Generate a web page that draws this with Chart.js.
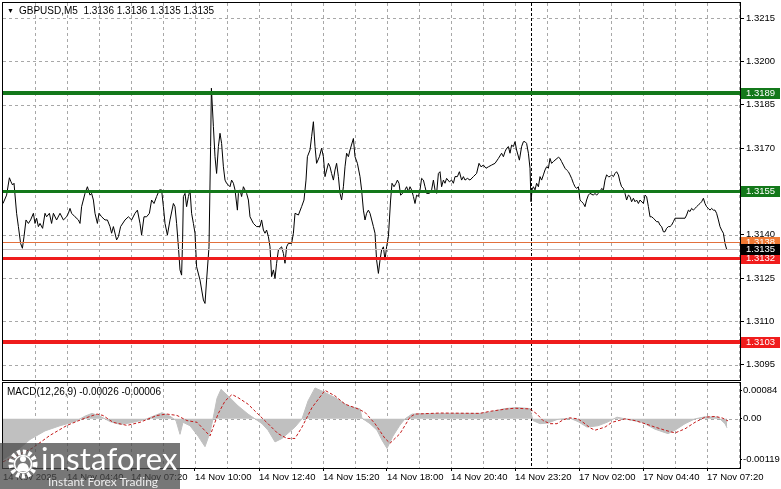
<!DOCTYPE html>
<html><head><meta charset="utf-8">
<script src="https://cdn.jsdelivr.net/npm/chart.js@4.4.1/dist/chart.umd.min.js"></script>
<style>
html,body{margin:0;padding:0;background:#fff;width:781px;height:489px;overflow:hidden;position:relative;font-family:"Liberation Sans",Arial,sans-serif;}
canvas{position:absolute;left:0;}
#cMain{top:0;}
#cMacd{top:381px;}
.ttl{position:absolute;font-size:10px;color:#000;white-space:nowrap;line-height:12px;}
.tri{font-size:7px;display:inline-block;margin-right:5px;position:relative;top:-1px;}
#wm{position:absolute;left:0;top:443px;width:180px;height:46px;background:rgba(72,72,72,0.74);overflow:hidden;}
#wmIcon{position:absolute;left:6px;top:3px;}
#wmText{position:absolute;left:41px;top:0;font-family:Lato,"Open Sans",sans-serif;font-size:31px;line-height:31px;color:#fff;letter-spacing:0.2px;}
#wmSub{position:absolute;left:48px;top:33px;font-family:Lato,"Open Sans",sans-serif;font-size:12px;line-height:12px;color:#eee;}
</style></head>
<body>
<canvas id="cMain" width="781" height="382"></canvas>
<canvas id="cMacd" width="781" height="108"></canvas>
<div class="ttl" style="left:7px;top:5px;"><span class="tri">&#9660;</span>GBPUSD,M5&nbsp; 1.3136 1.3136 1.3135 1.3135</div>
<div class="ttl" style="left:7px;top:386px;">MACD(12,26,9) -0.00026 -0.00006</div>
<div id="wm">
  <svg id="wmIcon" width="34" height="36" viewBox="0 0 34 36">
    <circle cx="17" cy="18" r="12" fill="none" stroke="#fff" stroke-width="5" stroke-dasharray="3.2 2.4"/>
    <circle cx="17" cy="18" r="8.5" fill="none" stroke="#fff" stroke-width="1.6"/>
    <circle cx="17" cy="13" r="3" fill="#fff"/>
    <path d="M11 25 Q11 17 17 17 Q23 17 23 25 Z" fill="#fff"/>
  </svg>
  <div id="wmText">instaforex</div>
  <div id="wmSub">Instant Forex Trading</div>
</div>
<script>
// ---------- DATA ----------
// Time axis: M5 bar index (14 Nov 00:00 = 0, 17 Nov 00:00 = 288 after the weekend gap)
const timeTickBars = [24,56,88,120,152,184,216,248,280,312,344,376];
const timeTickLabels = ["14 Nov 2025","14 Nov 04:40","14 Nov 07:20","14 Nov 10:00","14 Nov 12:40","14 Nov 15:20","14 Nov 18:00","14 Nov 20:40","14 Nov 23:20","17 Nov 02:00","17 Nov 04:40","17 Nov 07:20"];
const gridBars = [24,40,56,72,88,104,120,136,152,168,184,200,216,232,248,264,280,296,312,328,344,360,376,392];
const separatorBar = 288;

const priceTicks = [1.3095,1.3110,1.3125,1.3140,1.3155,1.3170,1.3185,1.3200,1.3215];
const priceTickLabels = ["1.3095","1.3110","1.3125","1.3140","1.3155","1.3170","1.3185","1.3200","1.3215"];

const macdTicks = [-0.00119,0,0.00084];
const macdTickLabels = ["-0.00119","0.00","0.00084"];

// horizontal price levels
const levelValues = [1.3189,1.3155,1.31376,1.3132,1.3135,1.3103];
const levelLabels = ["1.3189","1.3155","1.3138","1.3132","1.3135","1.3103"];

// close price, [bar, close]
const closeSeries = [
[24,1.31508],[25.8,1.31537],[27.2,1.31597],[28,1.31583],[28.8,1.31572],[29.5,1.31578],[30.8,1.31474],[31.7,1.31428],[32.8,1.31370],[33.7,1.31353],[34.5,1.31393],[35.5,1.31451],[36.7,1.31439],[37.8,1.31451],[39.2,1.31474],[40,1.31439],[40.8,1.31457],[41.7,1.31428],[42.5,1.31439],[43.8,1.31422],[45,1.31474],[45.8,1.31462],[47.2,1.31474],[48.3,1.31439],[49.2,1.31474],[50.8,1.31451],[52.5,1.31474],[54.2,1.31451],[55.8,1.31462],[56.7,1.31474],[57.5,1.31491],[58.3,1.31474],[60,1.31462],[61.7,1.31451],[62.5,1.31439],[63.3,1.31497],[65,1.31543],[66.2,1.31566],[67.5,1.31537],[68.3,1.31543],[69.2,1.31520],[70,1.31474],[71.2,1.31439],[72,1.31474],[73.3,1.31462],[75,1.31451],[76.2,1.31451],[77.5,1.31428],[78.3,1.31405],[79.2,1.31428],[80.8,1.31382],[81.7,1.31393],[82.8,1.31428],[85,1.31451],[86.7,1.31462],[88.3,1.31451],[90,1.31474],[91.2,1.31485],[92.5,1.31439],[93.3,1.31399],[94.5,1.31462],[95.8,1.31462],[97.2,1.31474],[98.3,1.31520],[99.5,1.31508],[100.8,1.31532],[102.2,1.31555],[103.3,1.31555],[104.2,1.31497],[105,1.31439],[106.2,1.31399],[107.5,1.31451],[109.2,1.31508],[110,1.31497],[110.8,1.31439],[111.7,1.31358],[112.5,1.31278],[113.3,1.31260],[113.8,1.31382],[114.2,1.31532],[115,1.31543],[115.8,1.31497],[116.7,1.31532],[117.5,1.31555],[118.3,1.31474],[119.2,1.31439],[120,1.31405],[120.8,1.31289],[122.5,1.31243],[124.2,1.31174],[125,1.31162],[125.8,1.31243],[127,1.31358],[127.8,1.31705],[128.2,1.31907],[129.2,1.31774],[130,1.31670],[130.8,1.31612],[131.7,1.31705],[132.5,1.31751],[133.3,1.31716],[134.2,1.31635],[135,1.31589],[135.8,1.31578],[137.5,1.31566],[138.3,1.31589],[139.2,1.31578],[140,1.31555],[141.2,1.31485],[141.7,1.31543],[142.5,1.31555],[143.3,1.31532],[144.2,1.31566],[145.8,1.31543],[146.7,1.31520],[147.5,1.31462],[149.2,1.31439],[150.8,1.31428],[152.5,1.31428],[153.3,1.31451],[154.2,1.31416],[155,1.31405],[155.8,1.31416],[156.7,1.31393],[157.5,1.31358],[158.3,1.31255],[159.2,1.31278],[160,1.31249],[160.8,1.31301],[161.7,1.31347],[163.3,1.31358],[164.2,1.31335],[165,1.31301],[165.8,1.31358],[166.7,1.31370],[168.3,1.31370],[169.2,1.31405],[170,1.31474],[171.7,1.31468],[173.3,1.31497],[174.5,1.31520],[175.5,1.31589],[176.2,1.31670],[177.5,1.31693],[178.3,1.31739],[179.2,1.31791],[180,1.31705],[180.8,1.31647],[182.2,1.31670],[183.3,1.31699],[184.2,1.31670],[185,1.31601],[186.7,1.31647],[187.5,1.31635],[188.3,1.31612],[189.2,1.31589],[190,1.31624],[190.8,1.31647],[191.7,1.31601],[192.5,1.31543],[193.3,1.31520],[194.2,1.31566],[195,1.31635],[195.8,1.31682],[196.7,1.31670],[197.5,1.31693],[199.2,1.31733],[200,1.31670],[201.2,1.31647],[202.5,1.31601],[203.3,1.31555],[204.2,1.31485],[205,1.31451],[205.8,1.31474],[206.7,1.31485],[207.5,1.31474],[209.2,1.31428],[210,1.31405],[210.8,1.31312],[211.7,1.31266],[212.5,1.31312],[213.3,1.31347],[214.2,1.31358],[215,1.31312],[215.8,1.31358],[216.7,1.31393],
[217.8,1.31520],[218.5,1.31578],[219.5,1.31566],[220.5,1.31578],[221.2,1.31589],[222,1.31578],[222.8,1.31537],[223.8,1.31543],[225,1.31555],[225.8,1.31566],[226.7,1.31549],[227.5,1.31566],[228.3,1.31555],[229.2,1.31532],[230,1.31508],[230.8,1.31537],[231.7,1.31532],[232.5,1.31555],[233.3,1.31595],[234.2,1.31589],[235,1.31566],[235.8,1.31543],[237.2,1.31543],[238.3,1.31555],[239.2,1.31589],[240,1.31555],[240.8,1.31543],[241.7,1.31612],[242.5,1.31618],[243.3,1.31566],[244.2,1.31589],[245,1.31578],[245.8,1.31595],[247.2,1.31583],[248.3,1.31589],[249.2,1.31578],[250,1.31601],[251.2,1.31601],[252.2,1.31618],[253.3,1.31589],[254.2,1.31601],[255,1.31589],[256.2,1.31595],[257.5,1.31589],[259.2,1.31601],[260.8,1.31612],[262,1.31647],[263,1.31635],[264.2,1.31641],[265.5,1.31630],[266.7,1.31635],[268.3,1.31641],[270,1.31647],[271.7,1.31664],[273.3,1.31682],[274.2,1.31670],[275,1.31687],[275.8,1.31699],[276.7,1.31705],[277.5,1.31682],[278.3,1.31710],[279.2,1.31705],[280,1.31722],[280.8,1.31693],[282.2,1.31658],[283.3,1.31705],[284.2,1.31722],[285,1.31722],[285.8,1.31716],[286.7,1.31682],[287.5,1.31630],[288,1.31514],[288.5,1.31555],[289.2,1.31566],[290,1.31555],[290.8,1.31578],[291.7,1.31566],[292.5,1.31601],[293.3,1.31589],[294.2,1.31607],[295,1.31624],[295.8,1.31635],[296.7,1.31630],[297.5,1.31664],[298.3,1.31647],[299.2,1.31653],[300,1.31658],[301.7,1.31668],[302.5,1.31664],[303.3,1.31653],[304.2,1.31641],[305,1.31630],[305.8,1.31624],[306.7,1.31618],[307.5,1.31607],[308.3,1.31595],[309.2,1.31578],[310,1.31566],[310.8,1.31560],[311.7,1.31566],[312.5,1.31520],[313.3,1.31514],[314.2,1.31508],[315,1.31497],[315.8,1.31520],[316.7,1.31537],[317.5,1.31543],[319.2,1.31537],[320,1.31543],[320.8,1.31537],[321.7,1.31543],[322.5,1.31549],[323.3,1.31560],[324.2,1.31555],[325,1.31589],[325.8,1.31607],[326.7,1.31601],[327.5,1.31601],[328.3,1.31607],[329.2,1.31601],[330,1.31612],[330.8,1.31618],[331.7,1.31607],[332.5,1.31583],[333.3,1.31566],[334.2,1.31560],[335,1.31543],[335.8,1.31520],[336.7,1.31537],[337.5,1.31532],[338.3,1.31514],[339.2,1.31526],[340,1.31514],[340.8,1.31520],[341.7,1.31508],[342.5,1.31520],[344.2,1.31508],[345,1.31537],[345.8,1.31532],[346.7,1.31497],[347.5,1.31462],[348.3,1.31462],[349.2,1.31457],[350,1.31451],[350.8,1.31445],[351.7,1.31445],[352.5,1.31433],[353.3,1.31428],[354.2,1.31410],[355,1.31410],[355.8,1.31422],[356.7,1.31428],[357.5,1.31428],[358.3,1.31433],[359.2,1.31445],[360,1.31457],[362.5,1.31457],[365,1.31457],[365.8,1.31468],[366.7,1.31485],[367.5,1.31480],[368.3,1.31491],[369.2,1.31485],[370,1.31491],[370.8,1.31497],[371.7,1.31503],[372.5,1.31508],[373.3,1.31514],[374.2,1.31526],[375,1.31508],[375.8,1.31497],[376.7,1.31491],[377.5,1.31485],[378.3,1.31491],[379.2,1.31485],[380,1.31485],[380.8,1.31474],[381.7,1.31451],[382.5,1.31428],[383.3,1.31416],[384.2,1.31405],[385,1.31370],[385.8,1.31350]
];

// MACD main (histogram), [bar, value]
const macdHist = [
[24,-0.00119],[27.5,-0.00105],[32.5,-0.00085],[37.5,-0.00060],[45,-0.00035],[52.5,-0.00020],[60,-0.00008],[65,0.00008],[68.5,0.00016],[72.5,0.00008],[77.5,-0.00008],[82.5,-0.00016],[87.5,-0.00012],[95,-0.00002],[100,0.00010],[103.5,0.00018],[107.5,0.00008],[110.5,-0.00005],[112.5,-0.00045],[114,-0.00010],[117.5,-0.00020],[121.5,-0.00050],[125,-0.00081],[127.5,-0.00040],[129,0],[131,0.00060],[133,0.00086],[136.5,0.00067],[141.5,0.00038],[146.5,0.00014],[150,0],[153.5,-0.00014],[156.5,-0.00033],[160,-0.00067],[163.5,-0.00057],[170,-0.00024],[173.5,0],[176.5,0.00052],[180,0.00090],[183.5,0.00081],[190,0.00062],[196.5,0.00038],[202.5,0.00029],[203.5,0.00002],[207.5,-0.00014],[211,-0.00033],[213.5,-0.00062],[216,-0.00086],[219,-0.00050],[222.5,-0.00018],[225,0],[228.5,0.00014],[247.5,0.00016],[262.5,0.00016],[267.5,0.00020],[275,0.00030],[281,0.00033],[287.5,0.00030],[289,-0.00005],[292.5,-0.00014],[296.5,-0.00012],[301,-0.00002],[307.5,0.00002],[311.5,-0.00008],[316,-0.00024],[321.5,-0.00020],[326,-0.00010],[331,0.00005],[337.5,-0.00003],[343.5,-0.00010],[350,-0.00030],[356.5,-0.00043],[360,-0.00033],[365,-0.00014],[370,0],[375,0.00006],[381.5,0.00005],[385,-0.00014],[386,-0.00026]
];
// MACD signal line, [bar, value]
const macdSignal = [
[24,-0.00125],[38.5,-0.00086],[47.5,-0.00048],[56,-0.00019],[64,0],[71,0.00014],[74,0.00010],[79,-0.00010],[86,-0.00019],[92.5,-0.00010],[101,0.00010],[106,0.00014],[111,0.00010],[116,-0.00005],[121,-0.00010],[127.5,-0.00050],[131.5,0.00014],[135,0.00052],[138.5,0.00071],[141.5,0.00062],[146.5,0.00043],[151.5,0.00014],[156.5,-0.00014],[161.5,-0.00043],[166,-0.00057],[170,-0.00057],[173.5,-0.00024],[178.5,0.00033],[185,0.00083],[190,0.00067],[195,0.00043],[201.5,0.00029],[205,0.00019],[210,-0.00014],[215,-0.00057],[217.5,-0.00071],[222.5,-0.00043],[227.5,0.00005],[230,0.00014],[242.5,0.00017],[262.5,0.00016],[267.5,0.00022],[276,0.00029],[280,0.00031],[287.5,0.00029],[291,0.00014],[294,-0.00005],[297.5,-0.00014],[301,-0.00014],[304,-0.00003],[307.5,0.00003],[311.5,0],[314.5,-0.00012],[317.5,-0.00026],[320,-0.00033],[325,-0.00024],[328.5,-0.00010],[335,0],[340,-0.00005],[345,-0.00014],[350,-0.00024],[355,-0.00033],[360,-0.00041],[365,-0.00029],[370,-0.00010],[375,0.00005],[380,0.00007],[383.5,0.00003],[386.5,-0.00006]
];

// ---------- STYLE ----------
const FONT = {family:"Liberation Sans", size:9.5};
const GRID = '#a8a8a8';
const GRID_DASH = [3,3];
const levelLineColors = ['#13781a','#13781a','#e2703c','#ef1c1c','#c9bdbd','#ef1c1c'];
const levelLineWidths = [4,3,1,3,1,4];
const levelBoxColors  = ['#13781a','#13781a','#f07a34','#f01c1c','#000000','#f01c1c'];
const TRANSPARENT = 'rgba(0,0,0,0)';

function xAxis(showLabels){
  return {
    type:'linear', min:24, max:392.5,
    afterBuildTicks: s => { s.ticks = gridBars.map(v => ({value:v})); },
    afterFit: s => { s.paddingLeft = 0; s.paddingRight = 0; s.height = showLabels ? 21 : 0; },
    border:{display:false},
    grid:{
      display:true, drawOnChartArea:false,
      lineWidth:1, drawTicks:showLabels, tickLength:3, tickBorderDash:[],
      tickColor: c => (c.tick && timeTickBars.indexOf(c.tick.value) > 0) ? '#000' : TRANSPARENT
    },
    ticks:{display:showLabels, autoSkip:false, maxRotation:0, minRotation:0, align:'start', padding:1, color:'#000', font:FONT,
      callback: v => { const i = timeTickBars.indexOf(v); return i >= 0 ? timeTickLabels[i] : ''; }}
  };
}

// dashed grid placed through the chart's own scales
function drawDashedGrid(chart, isPrice){
  const {ctx, chartArea:a, scales:{x, y}} = chart;
  const xs = gridBars.filter(v => v > 24).map(v => Math.round(x.getPixelForValue(v)) + 0.5);
  const ys = (isPrice ? priceTicks : macdTicks.filter(v => v === 0)).map(v => Math.round(y.getPixelForValue(v)) + 0.5);
  ctx.save();
  ctx.strokeStyle = GRID; ctx.lineWidth = 1; ctx.setLineDash(GRID_DASH);
  xs.forEach(px => { ctx.beginPath(); ctx.moveTo(px, a.top); ctx.lineTo(px, a.bottom); ctx.stroke(); });
  ys.forEach(py => { ctx.beginPath(); ctx.moveTo(a.left, py); ctx.lineTo(a.right, py); ctx.stroke(); });
  ctx.restore();
}

const frameAndLevels = {
  id:'frameAndLevels',
  beforeDatasetsDraw(chart, args, opts){
    const {ctx, chartArea:a, scales:{x}} = chart;
    drawDashedGrid(chart, !!opts.levels);
    const px = Math.round(x.getPixelForValue(separatorBar)) + 0.5;
    ctx.save();
    ctx.strokeStyle = '#000'; ctx.lineWidth = 1; ctx.setLineDash([3,2]);
    ctx.beginPath(); ctx.moveTo(px, a.top); ctx.lineTo(px, a.bottom); ctx.stroke();
    ctx.restore();
  },
  afterDatasetsDraw(chart, args, opts){
    const {ctx, chartArea:a, scales:{y}} = chart;
    if (opts.levels) {
      ctx.save();
      ctx.beginPath(); ctx.rect(a.left, a.top, a.right - a.left, a.bottom - a.top); ctx.clip();
      levelValues.forEach((v, i) => {
        const py = y.getPixelForValue(v);
        ctx.strokeStyle = levelLineColors[i]; ctx.lineWidth = levelLineWidths[i];
        const yy = levelLineWidths[i] % 2 ? Math.round(py) + 0.5 : Math.round(py);
        ctx.beginPath(); ctx.moveTo(a.left, yy); ctx.lineTo(a.right, yy); ctx.stroke();
      });
      ctx.restore();
    }
  },
  afterDraw(chart, args, opts){
    const {ctx, chartArea:a, scales:{y}} = chart;
    ctx.save();
    ctx.strokeStyle = '#000'; ctx.lineWidth = 1; ctx.setLineDash([]);
    ctx.strokeRect(a.left - 0.5, a.top - 0.5, a.right - a.left + 1, a.bottom - a.top + 1);
    if (opts.levels) {
      ctx.font = '9.5px "Liberation Sans"'; ctx.textBaseline = 'middle'; ctx.textAlign = 'left';
      levelValues.forEach((v, i) => {
        const py = Math.round(y.getPixelForValue(v));
        ctx.fillStyle = levelBoxColors[i];
        ctx.fillRect(a.right + 1, py - 5, 39, 11);
        ctx.fillStyle = '#fff';
        ctx.fillText(levelLabels[i], a.right + 6, py + 0.5);
      });
    }
    ctx.restore();
  }
};

Chart.defaults.font.family = "Liberation Sans";

new Chart(document.getElementById('cMain'), {
  type:'line',
  data:{datasets:[{
    data: closeSeries.map(([b, p]) => ({x:b, y:p})),
    borderColor:'#000', borderWidth:1, pointRadius:0, tension:0, fill:false
  }]},
  options:{
    responsive:false, animation:false, devicePixelRatio:1,
    layout:{padding:{left:3, top:3, right:0, bottom:2}},
    plugins:{legend:{display:false}, tooltip:{enabled:false}, frameAndLevels:{levels:true}},
    scales:{
      x: xAxis(false),
      y:{
        type:'linear', position:'right', min:1.30897, max:1.32202,
        afterBuildTicks: s => { s.ticks = priceTicks.map(v => ({value:v})); },
        afterFit: s => { s.width = 41; s.paddingTop = 0; s.paddingBottom = 0; },
        border:{display:false},
        grid:{display:true, drawOnChartArea:false, lineWidth:1, drawTicks:true, tickLength:4, tickColor:'#000', tickBorderDash:[]},
        ticks:{padding:2, color:'#000', font:FONT,
          callback: v => { const i = priceTicks.indexOf(v); return i >= 0 ? priceTickLabels[i] : ''; }}
      }
    }
  },
  plugins:[frameAndLevels]
});

new Chart(document.getElementById('cMacd'), {
  type:'line',
  data:{datasets:[
    {data: macdSignal.map(([b, v]) => ({x:b, y:v})), order:0,
     borderColor:'#c41a1a', borderWidth:1, borderDash:[3,2], pointRadius:0, tension:0, fill:false},
    {data: macdHist.map(([b, v]) => ({x:b, y:v})), order:1,
     borderColor:'#c0c0c0', borderWidth:1, backgroundColor:'#c0c0c0', pointRadius:0, tension:0, fill:'origin'}
  ]},
  options:{
    responsive:false, animation:false, devicePixelRatio:1,
    layout:{padding:{left:3, top:2, right:0, bottom:0}},
    plugins:{legend:{display:false}, tooltip:{enabled:false}, frameAndLevels:{levels:false}},
    scales:{
      x: xAxis(true),
      y:{
        type:'linear', position:'right', min:-0.001431, max:0.001045,
        afterBuildTicks: s => { s.ticks = macdTicks.map(v => ({value:v})); },
        afterFit: s => { s.width = 41; s.paddingTop = 0; s.paddingBottom = 0; },
        border:{display:false},
        grid:{display:true, drawOnChartArea:false, lineWidth:1, drawTicks:true, tickLength:2, tickColor:'#000', tickBorderDash:[]},
        ticks:{padding:1, color:'#000', font:FONT,
          callback: v => { const i = macdTicks.indexOf(v); return i >= 0 ? macdTickLabels[i] : ''; }}
      }
    }
  },
  plugins:[frameAndLevels]
});
</script>
</body></html>
